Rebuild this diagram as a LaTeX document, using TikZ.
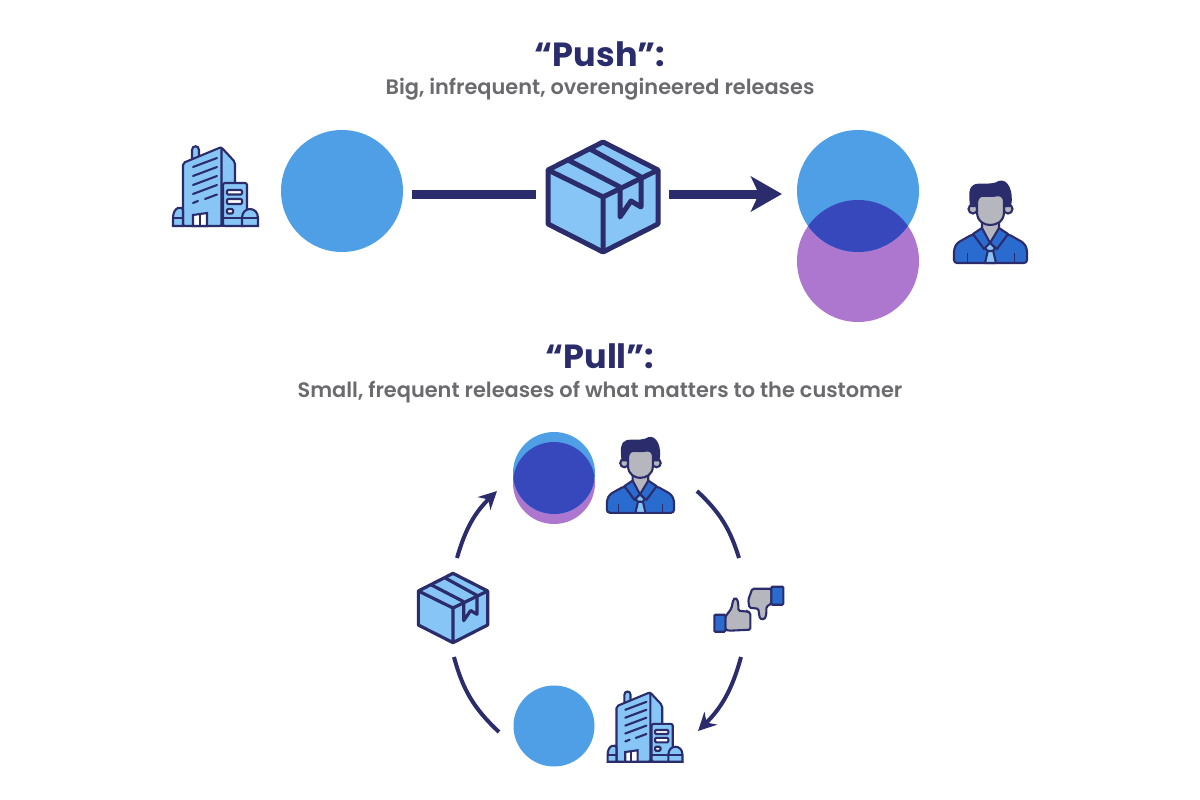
\documentclass[tikz,border=0pt]{standalone}
\usepackage{fontspec}
\setmainfont{Poppins}
\newfontfamily\subfont{Poppins SemiBold}
\usetikzlibrary{arrows.meta}
\definecolor{navy}{HTML}{2B2C6B}
\definecolor{skyfill}{HTML}{86C5F5}
\definecolor{leanblue}{HTML}{4F9FE6}
\definecolor{wantpurple}{HTML}{AE77CF}
\definecolor{overlap}{HTML}{3748BC}
\definecolor{suitblue}{HTML}{2A6BD0}
\definecolor{skingray}{HTML}{B6B6BE}
\definecolor{subgray}{HTML}{6B6B6F}
\tikzset{
building/.pic={
\draw[fill=skyfill] (-24,-27)--(-24,-36) .. controls (-24,-41) and (-17,-41) .. (-17,-36)--(-17,-27)--cycle;
\draw[fill=skyfill,rounded corners=2pt] (5,-39)--(19,-24)--(19,39)--(5,39)--cycle;
\draw[fill=skyfill,rounded corners=2pt] (-33,-23)--(5.5,-39)--(5.5,40)--(-33,40)--cycle;
\draw[fill=skyfill,rounded corners=2pt] (7,-3)--(31,-3)--(31,40)--(7,40)--cycle;
\draw[fill=white] (-23,40)--(-23,29)--(-9,27)--(-9,40)--cycle;
\draw (-16,28)--(-16,40);
\draw[fill=white,rounded corners=1pt] (11,4)rectangle(26,8.5);
\draw[fill=white,rounded corners=1pt] (11,13)rectangle(26,18);
\draw[fill=white,rounded corners=1pt] (11,23)rectangle(17,27.5);
\foreach \rowy in {-19,-10,-1,8} \draw[line cap=round] (-23,\rowy)--(1,\rowy-9);
\draw[line cap=round] (-23,17)--(-18,15);
\draw[line cap=round] (-11,13)--(1,8.5);
\draw[fill=skyfill] (-43,40)--(-43,32) .. controls (-43,20) and (-33,20) .. (-33,24)--(-33,40)--cycle;
\draw[fill=skyfill] (26,40)--(26,32) .. controls (26,20) and (42,20) .. (42,32)--(42,40)--cycle;
\draw (-43,32)--(-33,32) (7,32)--(42,32);
\draw[line cap=round] (-43,40)--(42,40);
},
parcel/.pic={
\draw[fill=skyfill,line join=round] (0,-55)--(55,-27)--(55,27)--(0,55)--(-55,27)--(-55,-27)--cycle;
\draw[line join=round] (-55,-27)--(0,0)--(55,-27) (0,0)--(0,55);
\draw[line join=round] (-35,-37)--(17,-10) (-13,-48)--(38,-20);
\draw[line join=round] (17,-10)--(17,20)--(28,4)--(38,10)--(38,-20);
},
customer/.pic={
\draw[fill=suitblue,rounded corners=3pt] (-36,40)--(-36,26)--(-33,20)--(-17,11)--(0,21)--(18,11)--(34,20)--(37,26)--(37,40)--cycle;
\draw[fill=skingray] (-8,-4)--(-8,11)--(0,20)--(9,11)--(9,-4)--cycle;
\draw[fill=suitblue,line join=round] (-17,11)--(-8,5)--(0,20)--(-6,26)--cycle (18,11)--(9,5)--(0,20)--(7,26)--cycle;
\draw[fill=skyfill,line join=round] (-5,40)--(-2,27)--(3,27)--(6,40)--cycle;
\draw[fill=skyfill,line join=round] (0,20)--(5,25)--(3,28)--(-2,28)--(-5,25)--cycle;
\draw[line width=1pt] (-23,30)--(-23,40) (24,30)--(24,40);
\draw[fill=skingray] (-17,-14) circle (4.5);
\draw[fill=skingray] (18,-14) circle (4.5);
\draw[fill=skingray] (-13,-28)--(-13,-11) .. controls (-13,-1) and (-5,2) .. (0,2) .. controls (6,2) and (14,-1) .. (14,-11)--(14,-28)--cycle;
\draw[fill=navy,line join=round] (-19,-17) .. controls (-20,-28) and (-21,-36) .. (-14,-38) .. controls (-8,-39) and (3,-37) .. (9,-41) .. controls (17,-44) and (23,-31) .. (20,-17)--(15,-17) .. controls (15,-23) and (13,-28) .. (8,-28) .. controls (2,-26) and (-5,-28) .. (-9,-27) .. controls (-12,-26) and (-13,-22) .. (-14,-17)--cycle;
},
thumbs/.pic={
\draw[fill=skingray,rounded corners=1.5pt] (-23,5)--(-17,-3)--(-15,-12) .. controls (-13,-14) and (-11,-13) .. (-10,-8)--(-10,-1)--(0,0)--(2,1)--(2,18)--(-19,19)--(-23,18)--cycle;
\draw[fill=suitblue,rounded corners=1pt] (-34,3)rectangle(-23,20);
\draw[fill=skingray,rounded corners=1.5pt] (23,-23)--(4,-23)--(0,-12)--(1,-4)--(10,-3)--(11,4) .. controls (12,8) and (17,9) .. (18,2)--(18,-5)--(23,-8)--cycle;
\draw[fill=suitblue,rounded corners=1pt] (23,-25)rectangle(35,-7);
},
spot/.style={circle,inner sep=0pt,minimum size=#1},
iconbox/.style={inner sep=0pt,minimum size=#1},
headline/.style={font=\bfseries\fontsize{33.5}{40}\selectfont,text=navy},
subline/.style={font=\subfont\fontsize{20.9}{24}\selectfont,text=subgray},
link/.style={navy,line width=9pt},
orbit/.style={navy,line width=4pt},
orbitarrow/.style={orbit,-{Stealth[length=18pt,width=18pt,inset=6pt]}},
}
\begin{document}
\begin{tikzpicture}[x=1pt,y=-1pt,line width=2.1pt,draw=navy]
\useasboundingbox[fill=white] (0,0) rectangle (1200,800);
\node[headline] (pushtitle) at (600,54) {“Push”:};
\node[subline] (pushsub) at (600,89) {Big, infrequent, overengineered releases};
\node[headline] (pulltitle) at (600,356) {“Pull”:};
\node[subline] (pullsub) at (600,392) {Small, frequent releases of what matters to the customer};
\node[spot=122pt,fill=leanblue] (leanbig) at (342,191) {};
\node[spot=122pt,fill=wantpurple] (wantbig) at (858,261) {};
\node[spot=122pt,fill=leanblue] (fitbig) at (858,191) {};
\begin{scope}
\clip (858,191) circle (61);
\fill[overlap] (858,261) circle (61);
\end{scope}
\node[iconbox=111pt] (parcelbig) at (603,194) {};
\pic[line width=5pt] at ([yshift=-3pt]parcelbig) {parcel};
\pic at (216,186) {building};
\pic at (990,223) {customer};
\draw[link,shorten <=8pt,shorten >=10pt] (leanbig.east |- parcelbig.west)--(parcelbig.west);
\draw[link,shorten <=9pt,shorten >=14pt,-{Stealth[length=31pt,width=35pt,inset=8pt]}] (parcelbig.east)--(fitbig.west |- parcelbig.east);
\node[spot=82pt,fill=wantpurple] (wantsmall) at (554,483) {};
\node[spot=82pt,fill=leanblue] (fitsmall) at (554,473) {};
\begin{scope}
\clip (554,473) circle (41);
\fill[overlap] (554,483) circle (41);
\end{scope}
\node[spot=81pt,fill=leanblue] (leansmall) at (554,726) {};
\node[iconbox=70pt] (parcelsmall) at (453,608) {};
\pic[scale=.63,line width=3.2pt] at (parcelsmall) {parcel};
\node[iconbox=76pt] (custsmall) at (640,476) {};
\pic[scale=.92] at (custsmall) {customer};
\node[iconbox=76pt] (buildsmall) at (645.5,726.5) {};
\pic[scale=.88] at (buildsmall) {building};
\node[iconbox=70pt] (votes) at (748.3,611.7) {};
\pic at (votes) {thumbs};
\coordinate (orbitA) at (457,558);
\coordinate (orbitB) at (497,491);
\coordinate (orbitC) at (697,491);
\coordinate (orbitD) at (739,558);
\coordinate (orbitE) at (741,657);
\coordinate (orbitF) at (698,731);
\coordinate (orbitG) at (499,732);
\coordinate (orbitH) at (454,657);
\draw[orbitarrow] (orbitA) to[bend left=15] (orbitB);
\draw[orbit] (orbitC) to[bend left=15] (orbitD);
\draw[orbitarrow] (orbitE) to[bend left=15] (orbitF);
\draw[orbit] (orbitG) to[bend left=16] (orbitH);
\end{tikzpicture}
\end{document}
